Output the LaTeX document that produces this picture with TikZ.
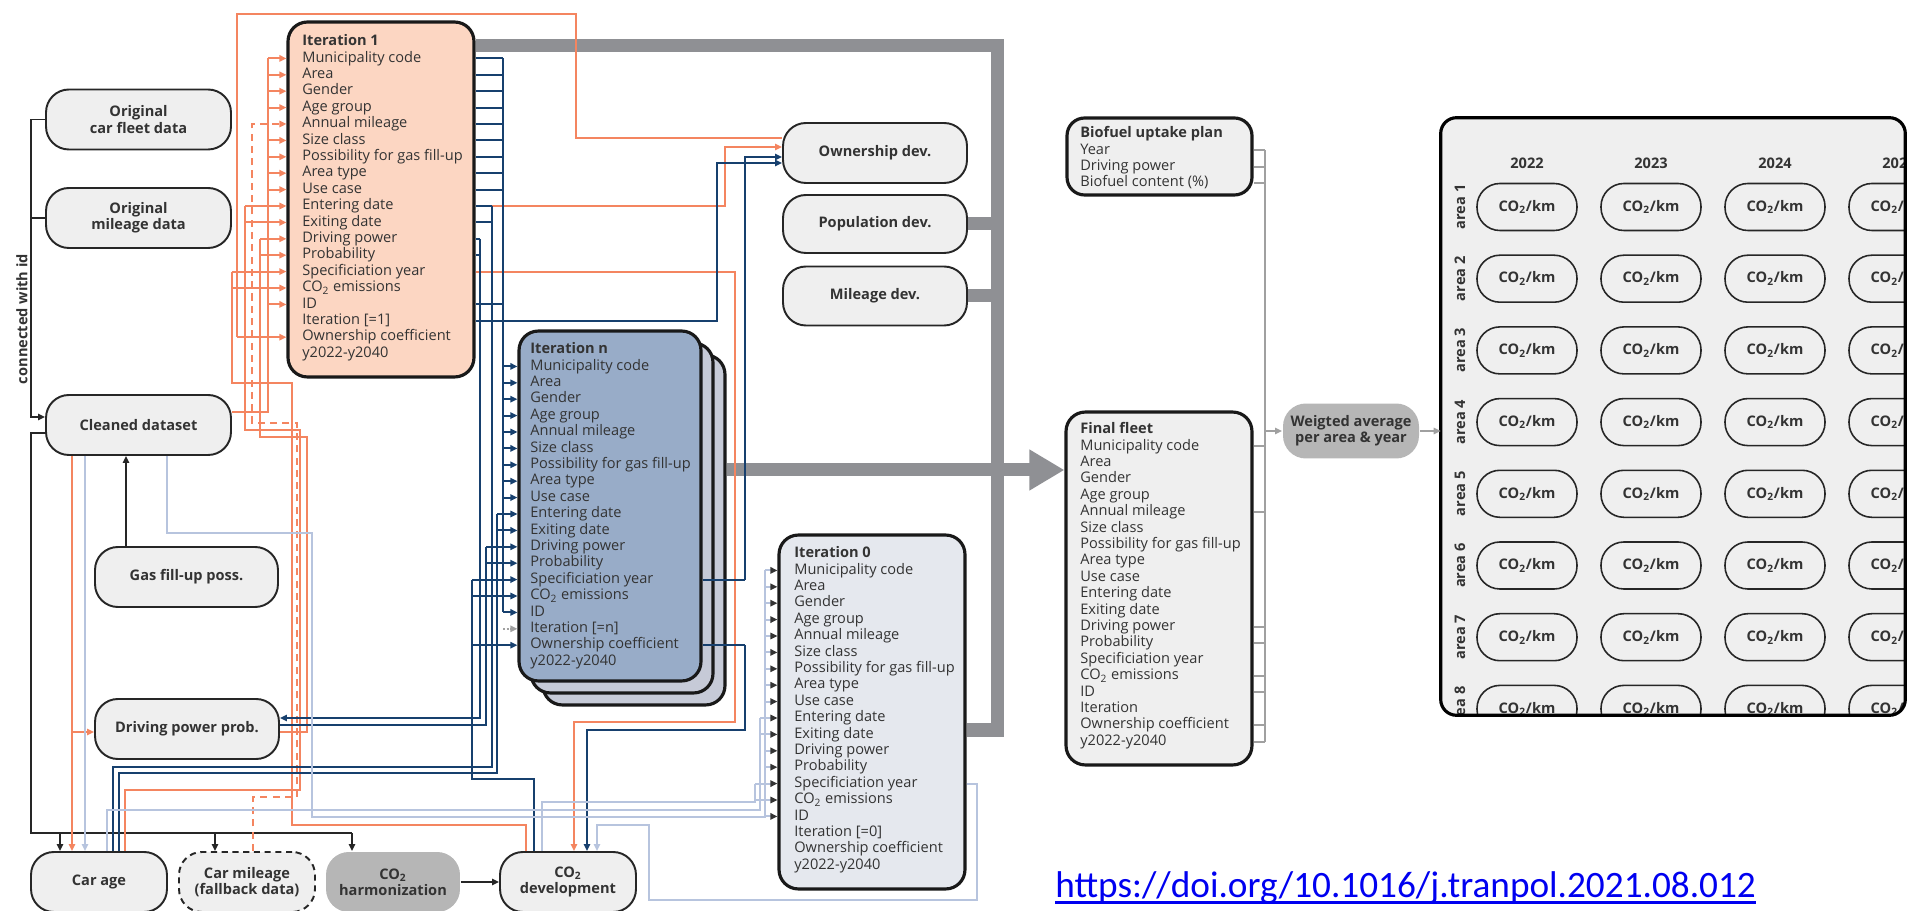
\documentclass[tikz,border=0pt]{standalone}
\usepackage{fontspec}
\setmainfont{Open Sans}
\newfontfamily\doifont{Carlito}
\usepackage{tikz}
\usetikzlibrary{arrows.meta, positioning}

\definecolor{boxgray}{RGB}{239,239,239}
\definecolor{harmgray}{RGB}{182,182,182}
\definecolor{itonecolor}{RGB}{252,214,194}
\definecolor{itncolor}{RGB}{152,172,200}
\definecolor{itnback}{RGB}{198,202,215}
\definecolor{itzerocolor}{RGB}{229,232,238}
\definecolor{lineorange}{RGB}{244,133,96}
\definecolor{lineblue}{RGB}{23,64,110}
\definecolor{linelight}{RGB}{183,196,222}
\definecolor{linegray}{RGB}{160,160,160}
\definecolor{pipegray}{RGB}{143,144,148}
\definecolor{linkblue}{RGB}{0,0,240}

\newcommand{\cotwo}{CO\textsubscript{2}}
\newcommand{\fieldfont}{\fontsize{8.3}{9.3}\selectfont}
\newcommand{\carfields}{Municipality code, Area, Gender, Age group, Annual mileage,
  Size class, Possibility for gas fill-up, Area type, Use case, Entering date,
  Exiting date, Driving power, Probability, Specificiation year, \cotwo{} emissions, ID}

\begin{document}
\begin{tikzpicture}[x=0.02cm, y=-0.02cm,
    every node/.style={font=\fieldfont, text=black!80},
    box/.style={draw=black!85, line width=1.1pt, fill=boxgray, rounded corners=13pt,
                minimum width=3.7cm, minimum height=1.2cm, inner sep=1pt,
                align=center, font=\fieldfont\bfseries},
    itbox/.style={draw=black!90, line width=1.8pt, rounded corners=11pt,
                  minimum width=3.72cm, minimum height=7.08cm},
    field/.style={anchor=west, inner sep=0pt, text height=6pt, text depth=1.8pt},
    capsule/.style={draw=black!85, line width=0.9pt, rounded corners=13pt,
                    minimum width=2cm, minimum height=0.94cm, font=\fieldfont\bfseries},
    oline/.style={draw=lineorange, line width=1.1pt},
    bline/.style={draw=lineblue, line width=1.1pt},
    lline/.style={draw=linelight, line width=1.1pt},
    gline/.style={draw=linegray, line width=1.1pt},
    bk/.style={draw=black!85, line width=1.1pt},
    arr/.style={-{Triangle[length=4pt,width=3.6pt]}},
    pipe/.style={draw=pipegray, line width=7.4pt}
  ]
  \useasboundingbox (0,0) rectangle (1907,911);

  % Input data
  \node[box] (fleet)   at (138.5,119.5) {Original\\car fleet data};
  \node[box] (mileage) at (138.5,218)   {Original\\mileage data};
  \node[box] (cleaned) at (138.5,425)   {Cleaned dataset};
  \node[box, minimum width=3.66cm] (gasposs) at (186.5,577) {Gas fill-up poss.};
  \node[box, minimum width=3.68cm] (dpprob)  at (187,729)   {Driving power prob.};
  \node[rotate=90, font=\fieldfont\bfseries] (idlabel) at (22,319) {connected with id};

  % Bottom row
  \node[box, minimum width=2.72cm] (carage) at (99,882)  {Car age};
  \node[box, minimum width=2.72cm, dashed, dash pattern=on 3.5pt off 2.6pt] (carmil)
        at (247,882) {Car mileage\\(fallback data)};
  \node[box, minimum width=2.68cm, fill=harmgray, draw=none] (harm) at (393,882)
        {\cotwo\\harmonization};
  \node[box, minimum width=2.72cm] (co2dev) at (568,882) {\cotwo\\development};

  % Developments
  \node[box, minimum width=3.68cm] (own) at (875,153) {Ownership dev.};
  \node[box, minimum width=3.68cm, minimum height=1.16cm] (pop) at (875,224) {Population dev.};
  \node[box, minimum width=3.68cm, minimum height=1.18cm] (mil) at (875,296) {Mileage dev.};

  % Iterations
  \node[itbox, fill=itonecolor, minimum height=7.1cm] (it1) at (381,199.5) {};
  \node[itbox, fill=itnback, minimum width=3.64cm, minimum height=7cm] (itnb2) at (634,530) {};
  \node[itbox, fill=itnback, minimum width=3.64cm, minimum height=7cm] (itnb1) at (622,518) {};
  \node[itbox, fill=itncolor, minimum width=3.64cm, minimum height=7cm] (itn) at (610,506) {};
  \node[itbox, fill=itzerocolor] (it0) at (872,712) {};
  \node[itbox, fill=boxgray, minimum height=7.06cm] (ffleet) at (1159,588.5) {};
  \node[itbox, fill=boxgray, minimum width=3.7cm, minimum height=1.54cm, rounded corners=10pt]
        (bio) at (1159.5,156.5) {};

  \foreach \bx/\x/\y/\title/\iter in {it1/302/42/Iteration 1/{Iteration [=1]},
      itn/530/350/Iteration n/{Iteration [=n]}, it0/794/554/Iteration 0/{Iteration [=0]},
      ff/1080/430/Final fleet/Iteration} {
    \node[field, font=\fieldfont\bfseries] (\bx-0) at (\x,\y) {\title};
    \foreach \t [count=\i] in \carfields
      \node[field] (\bx-\i) at (\x,{\y+16.4*\i}) {\t};
    \node[field] (\bx-17) at (\x,{\y+16.4*17}) {\iter};
    \node[field] (\bx-18) at (\x,{\y+16.4*18}) {Ownership coefficient};
    \node[field] (\bx-19) at (\x,{\y+16.4*19}) {y2022-y2040};
  }
  \node[field, font=\fieldfont\bfseries] (bio-0) at (1080,134) {Biofuel uptake plan};
  \foreach \t [count=\i] in {Year, Driving power, Biofuel content (\%)}
    \node[field] (bio-\i) at (1080,{134+16.4*\i}) {\t};

  \node[box, minimum width=2.72cm, minimum height=1.1cm, fill=harmgray, draw=none] (wavg)
        at (1351,431) {Weigted average\\per area \& year};

  % Result grid
  \node[fill=boxgray, minimum width=9.28cm, minimum height=11.94cm, inner sep=0pt,
        rounded corners=9pt] (grid) at (1673,416.5) {};
  \begin{scope}
    \clip[rounded corners=9pt] (grid.north west) rectangle (grid.south east);
    \foreach \yr [count=\c from 0] in {2022,2023,2024,2025}
      \node[font=\fieldfont\bfseries] (yr-\c) at ({1527+124*\c},163) {\yr};
    \foreach \r in {1,...,8} {
      \node[rotate=90, font=\fieldfont\bfseries] (ar-\r) at (1460,{207+71.7*(\r-1)}) {area \r};
      \foreach \c in {0,...,3}
        \node[capsule] (c-\r-\c) at ({1527+124*\c},{207+71.7*(\r-1)}) {\cotwo/km};
    }
  \end{scope}
  \draw[line width=1.8pt, rounded corners=9pt] (grid.north west) rectangle (grid.south east);

  % Grey main flow
  \draw[pipe] (it1.east |- 0,46) -- (997,46) -- (997,730) -- (it0.east |- 0,730);
  \draw[pipe] (pop.east) -- (997,0 |- pop.east);
  \draw[pipe] (mil.east) -- (997,0 |- mil.east);
  \draw[pipe, -{Triangle[length=20pt,width=22pt]}] (itnb2.east |- 0,470) -- (ffleet.west |- 0,470);

  % Black: data preparation
  \draw[bk, arr] (fleet.west) -- (31,0 |- fleet.west) -- (31,417) -- (cleaned.west |- 0,417);
  \draw[bk] (mileage.west) -- (31,0 |- mileage.west);
  \draw[bk] (cleaned.west |- 0,433) -- (31,433) -- (31,833) -- (352,833);
  \foreach \n/\x in {carage/60, carmil/215, harm/352}
    \draw[bk, arr] (\x,833) -- (\n.north -| \x,0);
  \draw[bk, arr] (gasposs.north -| 126,0) -- (cleaned.south -| 126,0);
  \draw[bk, arr] (harm) -- (co2dev);

  % Orange: into Iteration 1
  \draw[oline] (cleaned.east |- 0,412) -- (268,412) -- (268,0 |- it1-1);
  \foreach \i in {1,2,3,4,6,7,8,9,16}
    \draw[oline, arr] (268,0 |- it1-\i) -- (it1.west |- it1-\i);
  \draw[oline, arr, dashed, dash pattern=on 4pt off 3pt] (carmil.north -| 253,0) -- (253,797)
        -- (297,797) -- (297,423) -- (252,423) -- (252,0 |- it1-5) -- (it1.west |- it1-5);
  \draw[oline] (carage.north -| 125,0) -- (125,790) -- (300,790) -- (300,430) -- (245,430)
        -- (245,0 |- it1-10);
  \foreach \i in {10,11}
    \draw[oline, arr] (245,0 |- it1-\i) -- (it1.west |- it1-\i);
  \draw[oline] (dpprob.east |- 0,732) -- (307,732) -- (307,437) -- (260,437) -- (260,0 |- it1-12);
  \foreach \i in {12,13}
    \draw[oline, arr] (260,0 |- it1-\i) -- (it1.west |- it1-\i);
  \draw[oline] (co2dev.north -| 526,0) -- (526,825) -- (292,825) -- (292,383) -- (232,383)
        -- (232,0 |- it1-14);
  \foreach \i in {14,15}
    \draw[oline, arr] (232,0 |- it1-\i) -- (it1.west |- it1-\i);
  \draw[oline] (own.west |- 0,138) -- (576,138) -- (576,14) -- (237,14) -- (237,0 |- it1-18);
  \draw[oline, arr] (237,0 |- it1-18) -- (it1.west |- it1-18);
  \draw[oline, arr] (cleaned.south -| 72,0) -- (carage.north -| 72,0);
  \draw[oline, arr] (72,732) -- (dpprob.west |- 0,732);
  % Orange: out of Iteration 1
  \draw[oline, arr] (it1.east |- it1-14) -- (735,0 |- it1-14) -- (735,722) -- (574,722)
        -- (co2dev.north -| 574,0);
  \draw[oline, arr] (it1.east |- it1-10) -- (725,0 |- it1-10) -- (725,147) -- (own.west |- 0,147);

  % Blue: Iteration 1 to Iteration n
  \draw[bline] (503,0 |- it1-1) -- (503,0 |- itn-16);
  \foreach \i in {1,...,9,16,17}
    \draw[bline] (it1.east |- it1-\i) -- (503,0 |- it1-\i);
  \foreach \i in {1,...,9,16}
    \draw[bline, arr] (503,0 |- itn-\i) -- (itn.west |- itn-\i);
  \draw[densely dotted, linegray, line width=1.1pt, arr] (503,0 |- itn-17) -- (itn.west |- itn-17);
  \foreach \i in {10,11}
    \draw[bline] (it1.east |- it1-\i) -- (492,0 |- it1-\i);
  \draw[bline] (492,0 |- it1-10) -- (492,767) -- (113,767) -- (carage.north -| 113,0);
  \draw[bline] (carage.north -| 119,0) -- (119,773) -- (497,773) -- (497,0 |- itn-10);
  \foreach \i in {10,11}
    \draw[bline, arr] (497,0 |- itn-\i) -- (itn.west |- itn-\i);
  \foreach \i in {12,13}
    \draw[bline] (it1.east |- it1-\i) -- (480,0 |- it1-\i);
  \draw[bline, arr] (480,0 |- it1-12) -- (480,718) -- (dpprob.east |- 0,718);
  \draw[bline] (dpprob.east |- 0,725) -- (486,725) -- (486,0 |- itn-12);
  \foreach \i in {12,13}
    \draw[bline, arr] (486,0 |- itn-\i) -- (itn.west |- itn-\i);
  \draw[bline] (co2dev.north -| 534,0) -- (534,779) -- (472,779) -- (472,0 |- itn-14);
  \foreach \i in {14,15,18}
    \draw[bline, arr] (472,0 |- itn-\i) -- (itn.west |- itn-\i);
  \draw[bline, arr] (it1.east |- it1-17) -- (717,0 |- it1-17) -- (717,163) -- (own.west |- 0,163);
  \draw[bline] (itn.east |- itn-14) -- (745,0 |- itn-14);
  \draw[bline] (itn.east |- itn-18) -- (745,0 |- itn-18);
  \draw[bline, arr] (745,0 |- itn-14) -- (745,157) -- (own.west |- 0,157);
  \draw[bline, arr] (745,0 |- itn-18) -- (745,730) -- (587,730) -- (co2dev.north -| 587,0);

  % Light blue: Iteration 0
  \draw[lline, arr] (cleaned.south -| 85,0) -- (carage.north -| 85,0);
  \draw[lline] (cleaned.south -| 167,0) -- (167,533) -- (312,533) -- (312,817) -- (765,817)
        -- (765,0 |- it0-1);
  \foreach \i in {1,...,9,12,13,16}
    \draw[lline, -{Triangle[length=4pt,width=3.6pt,color=black!80]}] (765,0 |- it0-\i)
        -- (it0.west |- it0-\i);
  \draw[lline] (carage.north -| 107,0) -- (107,810) -- (760,810) -- (760,0 |- it0-10);
  \foreach \i in {10,11}
    \draw[lline, -{Triangle[length=4pt,width=3.6pt,color=black!80]}] (760,0 |- it0-\i)
        -- (it0.west |- it0-\i);
  \draw[lline] (co2dev.north -| 542,0) -- (542,802) -- (755,802) -- (755,0 |- it0-14);
  \foreach \i in {14,15}
    \draw[lline, -{Triangle[length=4pt,width=3.6pt,color=black!80]}] (755,0 |- it0-\i)
        -- (it0.west |- it0-\i);
  \draw[lline, arr] (it0.east |- it0-14) -- (977,0 |- it0-14) -- (977,900) -- (649,900)
        -- (649,825) -- (597,825) -- (co2dev.north -| 597,0);

  % Grey: final fleet to result
  \draw[gline] (1265,0 |- bio-1) -- (1265,0 |- ff-19);
  \foreach \i in {1,2,3}
    \draw[gline] (bio.east |- bio-\i) -- (1265,0 |- bio-\i);
  \foreach \i in {1,5,12,13,15,16,18,19}
    \draw[gline] (ffleet.east |- ff-\i) -- (1265,0 |- ff-\i);
  \draw[gline, arr] (1265,0 |- wavg) -- (wavg);
  \draw[gline, arr] (wavg) -- (grid.west |- wavg);

  % Source
  \node[font=\doifont\fontsize{21.2}{24}\selectfont, text=linkblue, anchor=base west,
        inner sep=0pt] (doi) at (1055,897) {https://doi.org/10.1016/j.tranpol.2021.08.012};
  \draw[linkblue, line width=1.4pt] ([yshift=-3.2pt]doi.base west) -- ([yshift=-3.2pt]doi.base east);
\end{tikzpicture}
\end{document}
